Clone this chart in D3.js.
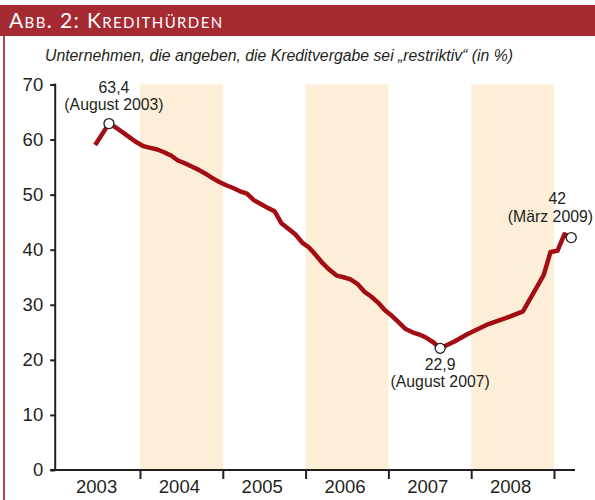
<!DOCTYPE html>
<html><head><meta charset="utf-8">
<script src="https://cdn.jsdelivr.net/npm/d3@7"></script>
<style>
html,body{margin:0;padding:0;background:#fff;}
svg{display:block;}
</style></head>
<body>
<script>
const title = "Abb. 2: Kredithürden";
const subtitle = "Unternehmen, die angeben, die Kreditvergabe sei „restriktiv“ (in %)";
const months = ["2003-06","2003-08","2003-09","2003-10","2003-11","2003-12",
"2004-01","2004-02","2004-03","2004-04","2004-05","2004-06","2004-07","2004-08","2004-09","2004-10","2004-11","2004-12",
"2005-01","2005-02","2005-03","2005-04","2005-05","2005-06","2005-07","2005-08","2005-09","2005-10","2005-11","2005-12",
"2006-01","2006-02","2006-03","2006-04","2006-05","2006-06","2006-07","2006-08","2006-09","2006-10","2006-11","2006-12",
"2007-01","2007-02","2007-03","2007-04","2007-05","2007-06","2007-07","2007-08","2007-10","2007-12",
"2008-03","2008-06","2008-08","2008-11","2008-12","2009-01","2009-02","2009-03"];
const values = [59.0,62.9,62.2,61.3,60.4,59.5,
58.8,58.5,58.2,57.7,57.1,56.2,55.7,55.1,54.5,53.8,53.0,52.3,
51.7,51.2,50.6,50.2,49.0,48.3,47.6,47.0,44.8,43.8,42.8,41.3,
40.4,39.0,37.5,36.3,35.3,35.0,34.6,33.8,32.4,31.5,30.4,29.0,
28.0,26.8,25.6,25.0,24.6,24.0,23.2,22.1,23.3,24.7,
26.5,27.8,28.8,35.4,39.6,39.8,42.8,42.2];
const yTicks = [0,10,20,30,40,50,60,70];
const years = [2003,2004,2005,2006,2007,2008];
const shadedYears = [2004,2006,2008];
const yearTicks = [2004,2005,2006,2007,2008,2009];
const annotMonths = ["2003-08","2007-08","2009-03"];
const annotValues = ["63,4","22,9","42"];
const annotDates = ["(August 2003)","(August 2007)","(März 2009)"];

const W=595,H=500;
const svg=d3.select("body").append("svg").attr("width",W).attr("height",H);
const toT = s => { const [y,m]=s.split("-").map(Number); return y+(m-0.5)/12; };
const data = months.map((m,i)=>({t:toT(m),v:values[i]}));

const x=d3.scaleLinear().domain([2003,2009]).range([57.2,554]);
const y=d3.scaleLinear().domain([0,70]).range([470,84.5]);

// banner
svg.append("rect").attr("x",0).attr("y",5).attr("width",W).attr("height",31).attr("fill","#a52a32");
svg.append("text").attr("x",9).attr("y",28).text(title)
  .attr("fill","#fff").style("font-family","Lato, 'Open Sans', sans-serif").style("font-size","21px")
  .style("font-variant","small-caps").style("letter-spacing","1.4px");
// left border
svg.append("rect").attr("x",3).attr("y",36).attr("width",2).attr("height",H-36).attr("fill","#b8434b");

// subtitle
svg.append("text").attr("x",45).attr("y",61).text(subtitle)
  .attr("fill","#231f20").style("font-family","'Liberation Sans', Arial, sans-serif")
  .style("font-style","italic").style("font-size","15.8px");

// bands
svg.append("g").selectAll("rect").data(shadedYears).join("rect")
  .attr("x",d=>x(d)).attr("width",d=>x(d+1)-x(d))
  .attr("y",y(70)).attr("height",y(0)-y(70)).attr("fill","#fdeed8");

// y axis
const ya=svg.append("g").attr("transform",`translate(${x(2003)-2},0)`)
  .call(d3.axisLeft(y).tickValues(yTicks).tickSize(5).tickPadding(7).tickFormat(d3.format("d")));
ya.select(".domain").remove();
ya.append("line").attr("x1",0).attr("x2",0).attr("y1",y(70)-1).attr("y2",y(0)).attr("stroke","#231f20").attr("stroke-width",2);
ya.selectAll(".tick line").attr("stroke","#231f20").attr("stroke-width",2);
ya.selectAll(".tick text").attr("fill","#231f20").style("font-family","'Liberation Sans', Arial, sans-serif").style("font-size","18.5px").attr("dy","0.3em");

// x axis
const xa=svg.append("g").attr("transform",`translate(0,${y(0)})`)
  .call(d3.axisBottom(x).tickValues(yearTicks).tickSize(9).tickFormat(""));
xa.select(".domain").remove();
xa.append("line").attr("x1",x(2003)-7).attr("x2",575).attr("y1",0).attr("y2",0).attr("stroke","#231f20").attr("stroke-width",2);
xa.selectAll(".tick line").attr("stroke","#231f20").attr("stroke-width",2);
svg.append("g").selectAll("text").data(years).join("text")
  .attr("x",d=>x(d+0.5)-2).attr("y",492.5).attr("text-anchor","middle").text(d=>d)
  .attr("fill","#231f20").style("font-family","'Liberation Sans', Arial, sans-serif").style("font-size","18.5px");

// line
svg.append("path").datum(data)
  .attr("d",d3.line().x(d=>x(d.t)).y(d=>y(d.v)))
  .attr("fill","none").attr("stroke","#a30d14").attr("stroke-width",4.5).attr("stroke-linejoin","round");

// annotations
const ann = annotMonths.map((m,i)=>({t:toT(m),v:values[months.indexOf(m)],a:annotValues[i],d:annotDates[i]}));
svg.append("g").selectAll("circle").data(ann).join("circle")
  .attr("cx",d=>x(d.t)).attr("cy",d=>y(d.v)).attr("r",5)
  .attr("fill","#fff").attr("stroke","#231f20").attr("stroke-width",1.3);
const labPos = [{dx:5,y1:93,y2:110},{dx:0,y1:370,y2:387},{dx:-14,y1:204,y2:222}];
const ag=svg.append("g").style("font-family","'Liberation Sans', Arial, sans-serif").style("font-size","15.8px").attr("fill","#231f20");
ann.forEach((d,i)=>{
  ag.append("text").attr("x",x(d.t)+labPos[i].dx).attr("y",labPos[i].y1).attr("text-anchor","middle").text(d.a);
  const t2 = ag.append("text").attr("y",labPos[i].y2).text(d.d);
  if(i===2){ t2.attr("x",593).attr("text-anchor","end"); }
  else { t2.attr("x",x(d.t)+labPos[i].dx).attr("text-anchor","middle"); }
});
</script>
</body></html>
